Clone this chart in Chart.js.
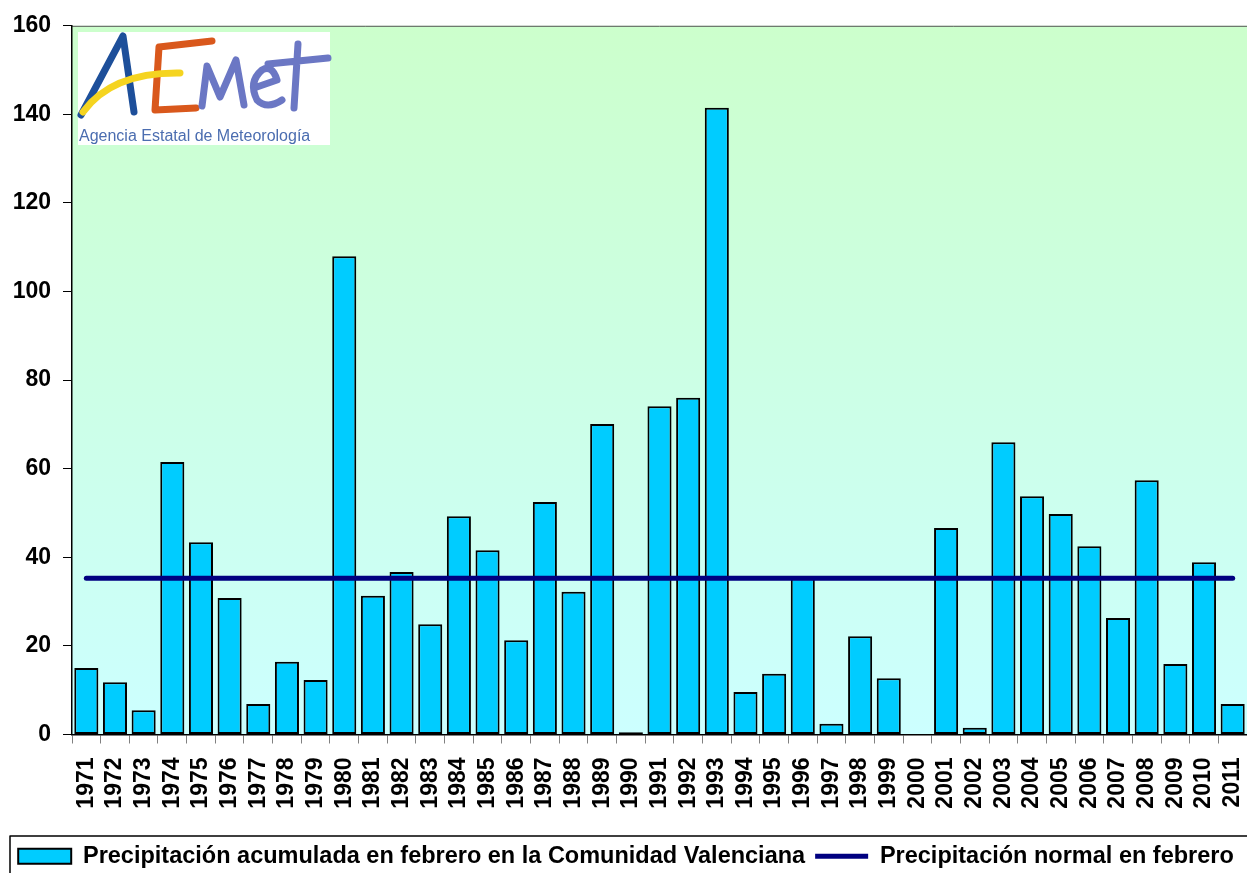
<!DOCTYPE html>
<html>
<head>
<meta charset="utf-8">
<script src="https://cdn.jsdelivr.net/npm/chart.js@4/dist/chart.umd.min.js"></script>
<style>
  html, body { margin: 0; padding: 0; background: #fff; overflow: hidden; }
</style>
</head>
<body>
<canvas id="chart" width="1247" height="873"></canvas>
<script>
// precipitacion de febrero en la Comunidad Valenciana (mm)
const years = ['1971','1972','1973','1974','1975','1976','1977','1978','1979','1980',
               '1981','1982','1983','1984','1985','1986','1987','1988','1989','1990',
               '1991','1992','1993','1994','1995','1996','1997','1998','1999','2000',
               '2001','2002','2003','2004','2005','2006','2007','2008','2009','2010','2011'];

const precip = [15.0, 11.8, 5.5, 61.5, 43.4, 30.8, 6.9, 16.4, 12.3, 108.0,
                31.3, 36.7, 24.9, 49.3, 41.6, 21.3, 52.5, 32.2, 70.1, 0.5,
                74.1, 76.0, 141.5, 9.6, 13.7, 35.3, 2.4, 22.2, 12.7, 0,
                46.6, 1.5, 66.0, 53.8, 49.8, 42.5, 26.3, 57.4, 15.9, 38.9, 6.9];

const normalValue = 35.3;
const normal = years.map(() => normalValue);

const yTicks = [0, 20, 40, 60, 80, 100, 120, 140, 160];

const labelBars = 'Precipitación acumulada en febrero en la Comunidad Valenciana';
const labelNormal = 'Precipitación normal en febrero';

const FONT = "'Liberation Sans', Arial, sans-serif";

// plot background gradient + logo + legend frame
const decor = {
    id: 'decor',
    beforeDraw(chart) {
        const {ctx, chartArea: a} = chart;
        ctx.save();
        const g = ctx.createLinearGradient(0, a.top, 0, a.bottom);
        g.addColorStop(0, '#ccffcc');
        g.addColorStop(1, '#ccffff');
        ctx.fillStyle = g;
        ctx.fillRect(a.left, a.top, a.right - a.left, a.bottom - a.top);
        ctx.strokeStyle = '#555';
        ctx.lineWidth = 1;
        ctx.beginPath();
        ctx.moveTo(a.left, a.top + 0.5);
        ctx.lineTo(a.right, a.top + 0.5);
        ctx.stroke();
        ctx.restore();
    },
    afterDraw(chart) {
        const ctx = chart.ctx;
        ctx.save();
        // logo
        ctx.fillStyle = '#fff';
        ctx.fillRect(78, 32, 252, 113);
        ctx.lineCap = 'round';
        ctx.lineJoin = 'round';
        // A
        ctx.strokeStyle = '#1d4f9a';
        ctx.lineWidth = 7;
        ctx.beginPath();
        ctx.moveTo(81, 115); ctx.lineTo(123, 36); ctx.lineTo(134, 112);
        ctx.stroke();
        // E
        ctx.strokeStyle = '#d9581c';
        ctx.lineWidth = 7;
        ctx.beginPath();
        ctx.moveTo(212, 41); ctx.lineTo(159, 47); ctx.lineTo(155, 110); ctx.lineTo(196, 108);
        ctx.stroke();
        // swoosh
        ctx.strokeStyle = '#f5d420';
        ctx.lineWidth = 7;
        ctx.beginPath();
        ctx.moveTo(83, 112);
        ctx.quadraticCurveTo(112, 72, 180, 73);
        ctx.stroke();
        // met
        ctx.strokeStyle = '#6b77c4';
        ctx.lineWidth = 7;
        ctx.beginPath();
        ctx.moveTo(202, 106); ctx.lineTo(207, 66); ctx.lineTo(220, 97);
        ctx.lineTo(236, 60); ctx.lineTo(244, 105);
        ctx.stroke();
        ctx.beginPath();
        ctx.moveTo(254, 88); ctx.lineTo(277, 80);
        ctx.quadraticCurveTo(272, 64, 262, 70);
        ctx.quadraticCurveTo(248, 82, 257, 100);
        ctx.quadraticCurveTo(267, 110, 282, 100);
        ctx.stroke();
        ctx.beginPath();
        ctx.moveTo(298, 44); ctx.lineTo(294, 108);
        ctx.moveTo(268, 64); ctx.lineTo(328, 58);
        ctx.stroke();
        ctx.fillStyle = '#4b6db0';
        ctx.font = '16px ' + FONT;
        ctx.textBaseline = 'alphabetic';
        ctx.fillText('Agencia Estatal de Meteorología', 79, 141);
        // legend frame
        ctx.strokeStyle = '#000';
        ctx.lineWidth = 1.5;
        ctx.strokeRect(10, 836, 1300, 100);
        ctx.restore();
    }
};

const ctx = document.getElementById('chart').getContext('2d');
const myChart = new Chart(ctx, {
    type: 'bar',
    data: {
        labels: years,
        datasets: [{
            label: labelBars,
            data: precip,
            backgroundColor: '#00ccff',
            borderColor: '#000',
            borderWidth: 2,
            borderSkipped: false,
            barPercentage: 0.84,
            categoryPercentage: 1,
            order: 1
        },
        {
            type: 'line',
            label: labelNormal,
            data: normal,
            borderColor: '#000080',
            borderWidth: 5,
            borderCapStyle: 'round',
            pointRadius: 0,
            fill: false,
            order: 0
        }]
    },
    options: {
        responsive: false,
        animation: false,
        layout: { padding: { top: 14, right: -5, left: 0, bottom: -5 } },
        plugins: {
            tooltip: { enabled: false },
            legend: {
                position: 'bottom',
                labels: {
                    usePointStyle: true,
                    pointStyleWidth: 53,
                    boxHeight: 15,
                    padding: 10,
                    color: '#000',
                    font: { family: FONT, size: 23.5, weight: 'bold' },
                    generateLabels: function(chart) {
                        return [{
                            text: labelBars,
                            fillStyle: '#00ccff',
                            strokeStyle: '#000',
                            lineWidth: 2,
                            pointStyle: 'rect',
                            datasetIndex: 0
                        }, {
                            text: labelNormal,
                            fillStyle: '#000080',
                            strokeStyle: '#000080',
                            lineWidth: 5,
                            pointStyle: 'line',
                            datasetIndex: 1
                        }];
                    }
                }
            }
        },
        scales: {
            x: {
                offset: true,
                afterFit: function(scale) {
                    scale.height = 100;
                    scale.paddingRight = 0;
                    scale.paddingLeft = 0;
                },
                grid: {
                    offset: true,
                    drawOnChartArea: false,
                    drawTicks: true,
                    tickLength: 9,
                    color: '#808080'
                },
                border: { color: '#000', width: 1.5 },
                ticks: {
                    minRotation: 90,
                    maxRotation: 90,
                    autoSkip: false,
                    padding: 14,
                    color: '#000',
                    font: { family: FONT, size: 23, weight: 'bold' }
                }
            },
            y: {
                min: 0,
                max: 160,
                afterBuildTicks: function(scale) {
                    scale.ticks = yTicks.map(v => ({ value: v }));
                },
                afterFit: function(scale) {
                    scale.width = 72;
                },
                grid: {
                    drawOnChartArea: false,
                    drawTicks: true,
                    tickLength: 9,
                    color: '#000'
                },
                border: { color: '#000', width: 1.5 },
                ticks: {
                    padding: 12,
                    color: '#000',
                    font: { family: FONT, size: 23, weight: 'bold' }
                }
            }
        }
    },
    plugins: [decor]
});
</script>
</body>
</html>
